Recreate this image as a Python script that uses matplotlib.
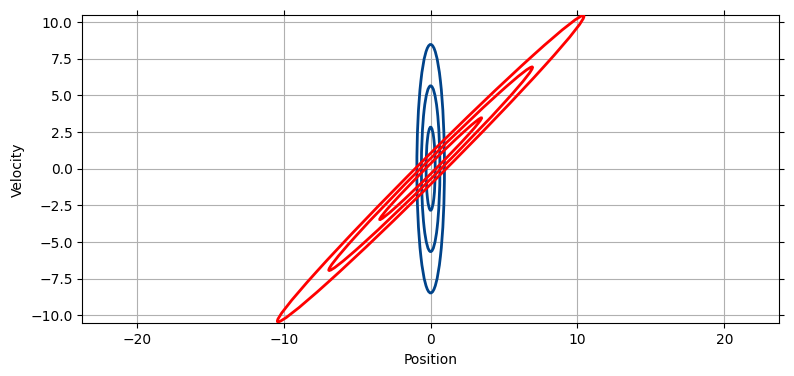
import matplotlib
matplotlib.use("Agg")
import matplotlib.pyplot as plt
from matplotlib.patches import Ellipse

# Blue orbits: semi-axes along position and velocity
blue_pos_semi = [0.31, 0.63, 0.94]
blue_vel_semi = [2.83, 5.65, 8.47]

# Red orbits: semi-major along the diagonal, semi-minor across it, tilt angle
red_major_semi = [4.9, 9.8, 14.75]
red_minor_semi = [0.25, 0.5, 0.75]
red_angle = 45

x_ticks = [-20, -10, 0, 10, 20]
y_ticks = [-10.0, -7.5, -5.0, -2.5, 0.0, 2.5, 5.0, 7.5, 10.0]

fig = plt.figure(figsize=(7.94, 3.76), dpi=100)
ax = fig.add_axes([82.3 / 794, 1 - 323.3 / 376, 697 / 794, 308 / 376])

for a, b in zip(blue_pos_semi, blue_vel_semi):
    ax.add_patch(Ellipse((0, 0), 2 * a, 2 * b, angle=0, fill=False,
                         edgecolor="#00438a", lw=2, zorder=2))
for L, w in zip(red_major_semi, red_minor_semi):
    ax.add_patch(Ellipse((0, 0), 2 * L, 2 * w, angle=red_angle, fill=False,
                         edgecolor="red", lw=2, zorder=3))

ax.set_xlim(-23.73, 23.75)
ax.set_ylim(-10.54, 10.46)
ax.set_aspect("equal", adjustable="datalim")
ax.set_xticks(x_ticks)
ax.set_yticks(y_ticks)
ax.tick_params(top=True, right=True)
ax.grid(True)
ax.set_xlabel("Position")
ax.set_ylabel("Velocity")

fig.savefig("out.png", dpi=100)
